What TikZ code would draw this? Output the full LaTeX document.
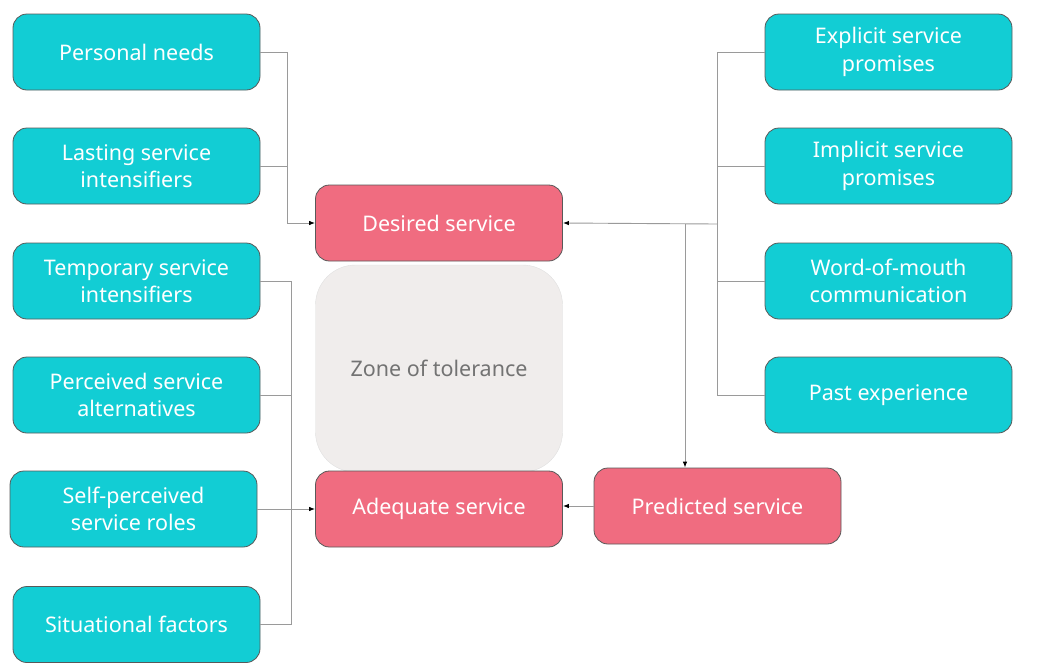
\documentclass[tikz,border=0pt]{standalone}
\usepackage{fontspec}
\setmainfont{Noto Sans}
\usetikzlibrary{arrows.meta}
\definecolor{teal1}{HTML}{12CDD4}
\definecolor{pink1}{HTML}{F06C80}
\definecolor{zonebg}{HTML}{F0EDEC}
\definecolor{linegray}{HTML}{9A9A9A}
\begin{document}
\begin{tikzpicture}[x=1pt,y=-1pt,
  box/.style={draw=black!65, line width=0.8pt, rounded corners=14pt, minimum width=247pt, minimum height=76pt, align=center, text=white, font=\fontsize{21.5}{27.5}\selectfont, inner sep=2pt},
  tbox/.style={box, fill=teal1},
  pbox/.style={box, fill=pink1},
  conn/.style={draw=linegray, line width=0.9pt},
  arr/.style={conn, -{Latex[length=6pt,width=4.5pt,black]}}
]
\useasboundingbox (0,0) rectangle (1062,662);
% left
\node[tbox] (pn) at (136.5,52) {Personal needs};
\node[tbox] (ls) at (136.5,166) {Lasting service\\intensifiers};
\node[tbox] (ts) at (136.5,281) {Temporary service\\intensifiers};
\node[tbox] (ps) at (136.5,395) {Perceived service\\alternatives};
\node[tbox] (sp) at (133.5,509) {Self-perceived\\service roles};
\node[tbox] (sf) at (136.5,624.5) {Situational factors};
% right
\node[tbox] (ex) at (888.5,52) {Explicit service\\promises};
\node[tbox] (im) at (888.5,166) {Implicit service\\promises};
\node[tbox] (wm) at (888.5,281) {Word-of-mouth\\communication};
\node[tbox] (pe) at (888.5,395) {Past experience};
% center
\node[draw=black!12, fill=zonebg, rounded corners=40pt, minimum width=247pt, minimum height=207pt, text=black!55, font=\fontsize{21.5}{27.5}\selectfont] (zt) at (439,368.5) {Zone of tolerance};
\node[pbox] (ds) at (439,223) {Desired service};
\node[pbox] (as) at (439,509) {Adequate service};
\node[pbox] (pr) at (717.5,506) {Predicted service};
% coordinates
\coordinate (la) at (287,52);
\coordinate (lb) at (287,223);
\coordinate (lc) at (291,281);
\coordinate (ld) at (291,624.5);
\coordinate (ra) at (717,52);
\coordinate (rb) at (717,395);
\coordinate (rj) at (717,224);
\coordinate (rk) at (685,224);
% left top connectors
\draw[conn] (pn.east) -- (la) -- (lb);
\draw[conn] (ls.east) -- (ls.east -| la);
\draw[arr] (lb) -- (ds.west);
% left bottom connectors
\draw[conn] (ts.east) -- (lc) -- (ld) -- (sf.east);
\draw[conn] (ps.east) -- (ps.east -| lc);
\draw[arr] (sp.east) -- (as.west |- sp.east);
% right connectors
\draw[conn] (ex.west) -- (ra) -- (rb) -- (pe.west);
\draw[conn] (im.west) -- (im.west -| ra);
\draw[conn] (wm.west) -- (wm.west -| ra);
\draw[arr] (rj) -- (ds.east);
\draw[arr] (rk) -- (rk |- pr.north);
\draw[arr] (pr.west) -- (as.east |- pr.west);
\end{tikzpicture}
\end{document}
